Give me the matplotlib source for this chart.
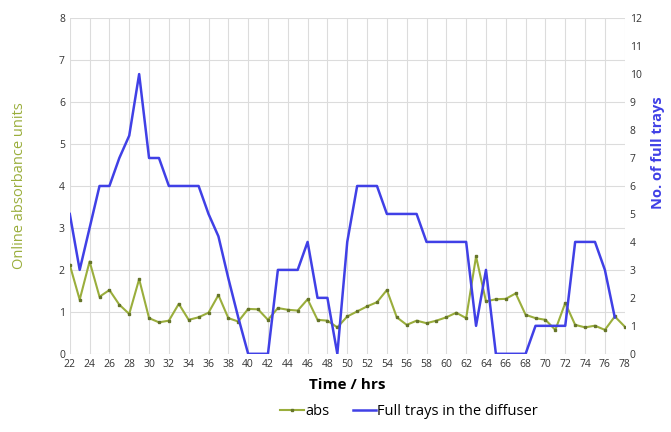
import matplotlib.pyplot as plt

# hourly readings
hours = list(range(22, 79))
absorbance = [2.12, 1.29, 2.2, 1.36, 1.52, 1.17, 0.95, 1.78, 0.85, 0.75,
              0.79, 1.19, 0.81, 0.87, 0.98, 1.40, 0.85, 0.77, 1.07, 1.06,
              0.81, 1.09, 1.05, 1.03, 1.30, 0.81, 0.79, 0.63, 0.89, 1.01,
              1.13, 1.23, 1.52, 0.87, 0.69, 0.79, 0.73, 0.79, 0.87, 0.98,
              0.85, 2.32, 1.25, 1.30, 1.31, 1.44, 0.93, 0.85, 0.81, 0.57,
              1.21, 0.69, 0.63, 0.67, 0.57, 0.89, 0.65]

tray_hours = list(range(22, 78))
full_trays = [5, 3, 4.5, 6, 6, 7, 7.8, 10, 7, 7,
              6, 6, 6, 6, 5, 4.2, 2.7, 1.3, 0, 0,
              0, 3, 3, 3, 4, 2, 2, 0, 4, 6,
              6, 6, 5, 5, 5, 5, 4, 4, 4, 4,
              4, 1, 3, 0, 0, 0, 0, 1, 1, 1,
              1, 4, 4, 4, 3, 1.3]

green = '#9aae3c'
blue = '#4040e6'

plt.rcParams['font.family'] = ['Open Sans', 'DejaVu Sans']

fig = plt.figure(figsize=(6.71, 4.32), dpi=100)
ax = fig.add_axes([0.104, 0.181, 0.827, 0.777])
ax2 = ax.twinx()

l1, = ax.plot(hours, absorbance, color=green, lw=1.5, marker='s', ms=2,
              mfc='#66752a', mec='#66752a', label='abs', zorder=3)
l2, = ax2.plot(tray_hours, full_trays, color=blue, lw=1.8,
               label='Full trays in the diffuser')

ax.set_xlim(22, 78)
ax.set_ylim(0, 8)
ax2.set_ylim(0, 12)
ax.set_xticks(range(22, 79, 2))
ax.set_yticks(range(0, 9))
ax2.set_yticks(range(0, 13))

ax.grid(True, color='#dcdcdc', lw=0.8)
ax.set_axisbelow(True)
for a in (ax, ax2):
    for s in a.spines.values():
        s.set_visible(False)
    a.tick_params(length=0, labelsize=7.5, colors='#333333')

ax.set_xlabel('Time / hrs', fontsize=11, fontweight='bold', labelpad=6)
ax.set_ylabel('Online absorbance units', fontsize=10.5, color=green)
ax.yaxis.set_label_coords(-0.078, 0.5)
ax2.set_ylabel('No. of full trays', fontsize=10.5, color=blue, fontweight='bold')
ax2.yaxis.set_label_coords(1.048, 0.6)

fig.legend(handles=[l1, l2], loc='lower center', ncol=2, frameon=False,
           fontsize=10.5, bbox_to_anchor=(0.61, 0.0), columnspacing=1.6,
           handlelength=1.6, handletextpad=0.1)

fig.savefig('out.png', dpi=100)
